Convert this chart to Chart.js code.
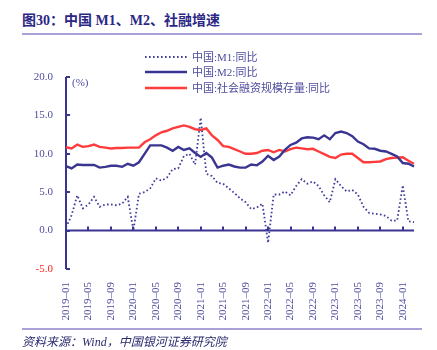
<!DOCTYPE html>
<html>
<head>
<meta charset="utf-8">
<script src="https://cdn.jsdelivr.net/npm/chart.js@4"></script>
<style>
  body { margin: 0; background: #fff; }
  #wrap { position: relative; width: 437px; height: 350px; }
  #chart { position: absolute; left: 0; top: 0; }
  .title { position: absolute; left: 22px; top: 9px; font: bold 14px "Liberation Serif", "Noto Sans CJK SC", serif; color: #2b2785; white-space: nowrap; }
  .rule { position: absolute; left: 22px; width: 400px; height: 1.5px; background: #a8a2d8; }
  .source { position: absolute; left: 22px; top: 332px; font: italic 12px "Liberation Serif", "Noto Sans CJK SC", serif; color: #2b2a6e; white-space: nowrap; }
</style>
</head>
<body>
<div id="wrap">
  <div class="title">图30：中国 M1、M2、社融增速</div>
  <div class="rule" style="top:33px"></div>
  <canvas id="chart" width="437" height="350"></canvas>
  <div class="rule" style="top:328px"></div>
  <div class="source">资料来源：Wind，中国银河证券研究院</div>
</div>
<script>
// months 2019-01 .. 2024-03
const months = [];
for (let y = 2019; y <= 2024; y++) {
    for (let m = 1; m <= 12; m++) {
        if (y == 2024 && m > 3) break;
        months.push(y + "–" + String(m).padStart(2, "0"));
    }
}

const seriesNames = ["中国:M1:同比", "中国:M2:同比", "中国:社会融资规模存量:同比"];

const m1 = [0.4, 2.0, 4.6, 2.9, 3.4, 4.4, 3.1, 3.4, 3.4, 3.3, 3.5, 4.4,
            0.0, 4.8, 5.0, 5.5, 6.8, 6.5, 6.9, 8.0, 8.1, 9.7, 10.0, 8.6,
            14.7, 7.4, 7.1, 6.2, 6.1, 5.5, 4.9, 4.2, 3.7, 2.8, 3.0, 3.5,
            -1.6, 4.7, 4.7, 5.1, 4.6, 5.8, 6.7, 6.1, 6.4, 5.8, 4.6, 3.7,
            6.7, 5.8, 5.1, 5.3, 4.7, 3.1, 2.3, 2.2, 2.1, 1.9, 1.3, 1.3,
            5.9, 1.2, 1.1];

const m2 = [8.4, 8.1, 8.6, 8.55, 8.55, 8.55, 8.2, 8.3, 8.45, 8.45, 8.3, 8.7,
            8.45, 8.9, 10.0, 11.1, 11.1, 11.1, 10.8, 10.4, 10.9, 10.5, 10.7, 10.1,
            9.6, 10.1, 9.5, 8.2, 8.45, 8.6, 8.35, 8.2, 8.2, 8.6, 8.5, 9.0,
            9.75, 9.2, 9.65, 10.5, 11.15, 11.45, 12.0, 12.15, 12.1, 11.9, 12.4, 11.9,
            12.7, 12.9, 12.7, 12.3, 11.6, 11.25, 10.7, 10.65, 10.4, 10.3, 10.0, 9.65,
            8.8, 8.7, 8.35];

const tsf = [10.85, 10.7, 11.2, 10.9, 11.0, 11.2, 10.9, 10.8, 10.7, 10.75, 10.75, 10.8,
             10.8, 10.8, 11.5, 11.9, 12.4, 12.8, 13.0, 13.3, 13.5, 13.7, 13.5, 13.2,
             13.1, 13.3, 12.4, 11.8, 11.0, 10.9, 10.6, 10.3, 10.0, 10.0, 10.1, 10.4,
             10.5, 10.2, 10.5, 10.3, 10.6, 10.8, 10.7, 10.6, 10.65, 10.3, 9.95, 9.6,
             9.45, 9.9, 10.0, 10.0, 9.45, 8.9, 8.9, 8.95, 9.0, 9.3, 9.45, 9.5,
             9.55, 9.1, 8.7];

const yTicks = [-5, 0, 5, 10, 15, 20];

const NAVY = "#3b3592";
const TEXT = "#4f4c9e";
const RED = "#ff3b3b";
const SERIF = '"Liberation Serif", "Noto Sans CJK SC", serif';

const axesPlugin = {
    id: "axesPlugin",
    beforeDatasetsDraw(chart) {
        const ctx = chart.ctx;
        const x = chart.scales.x, y = chart.scales.y;
        const area = chart.chartArea;
        const y0 = y.getPixelForValue(0);
        ctx.save();
        ctx.strokeStyle = NAVY;
        ctx.lineWidth = 2;
        // zero line acting as x axis
        ctx.beginPath();
        ctx.moveTo(area.left, y0);
        ctx.lineTo(area.right, y0);
        ctx.stroke();
        // x ticks, upwards
        for (let i = 0; i < months.length; i += 4) {
            const px = Math.round(x.getPixelForValue(i));
            ctx.beginPath();
            ctx.moveTo(px, y0);
            ctx.lineTo(px, y0 - 4);
            ctx.stroke();
        }
        // y axis line and inner ticks
        ctx.beginPath();
        ctx.moveTo(area.left, area.top);
        ctx.lineTo(area.left, area.bottom);
        ctx.stroke();
        for (const v of yTicks) {
            const py = Math.round(y.getPixelForValue(v));
            ctx.beginPath();
            ctx.moveTo(area.left, py);
            ctx.lineTo(area.left + 4, py);
            ctx.stroke();
        }
        ctx.restore();
    },
    afterDraw(chart) {
        const ctx = chart.ctx;
        const area = chart.chartArea;
        ctx.save();
        ctx.font = "11px " + SERIF;
        ctx.fillStyle = TEXT;
        ctx.textBaseline = "middle";
        ctx.fillText("(%)", area.left + 6, area.top + 6);
        // legend
        const rows = [57, 72, 88];
        chart.data.datasets.forEach((ds, i) => {
            ctx.strokeStyle = ds.borderColor;
            ctx.lineWidth = ds.borderWidth;
            ctx.setLineDash(ds.borderDash || []);
            ctx.beginPath();
            ctx.moveTo(145, rows[i]);
            ctx.lineTo(187, rows[i]);
            ctx.stroke();
            ctx.setLineDash([]);
            ctx.fillStyle = TEXT;
            ctx.fillText(ds.label, 192, rows[i] + 1);
        });
        ctx.restore();
    }
};

new Chart(document.getElementById("chart"), {
    type: "line",
    data: {
        labels: months,
        datasets: [
            { label: seriesNames[0], data: m1, borderColor: "#3f3c9c", borderWidth: 1.8, borderDash: [1.6, 2.4] },
            { label: seriesNames[1], data: m2, borderColor: NAVY, borderWidth: 2.4 },
            { label: seriesNames[2], data: tsf, borderColor: RED, borderWidth: 2.4 }
        ]
    },
    options: {
        responsive: false,
        animation: false,
        events: [],
        elements: { point: { radius: 0 }, line: { tension: 0 } },
        layout: { padding: { top: 77, right: 23, left: 0, bottom: 0 } },
        plugins: { legend: { display: false }, tooltip: { enabled: false } },
        scales: {
            x: {
                type: "category",
                offset: false,
                grid: { display: false },
                border: { display: false },
                ticks: {
                    autoSkip: false,
                    maxRotation: 90,
                    minRotation: 90,
                    padding: 5,
                    color: TEXT,
                    font: { family: SERIF, size: 11 },
                    callback: (v, i) => (i % 4 == 0 ? months[i] : "")
                },
                afterFit: s => { s.height = 81; }
            },
            y: {
                min: -5,
                max: 20,
                grid: { display: false, drawTicks: false },
                border: { display: false },
                ticks: {
                    stepSize: 5,
                    padding: 13,
                    color: c => (c.tick.value == -5 ? "#ff2020" : TEXT),
                    font: { family: SERIF, size: 11 },
                    callback: v => v.toFixed(1)
                },
                afterFit: s => { s.width = 66; }
            }
        }
    },
    plugins: [axesPlugin]
});
</script>
</body>
</html>
